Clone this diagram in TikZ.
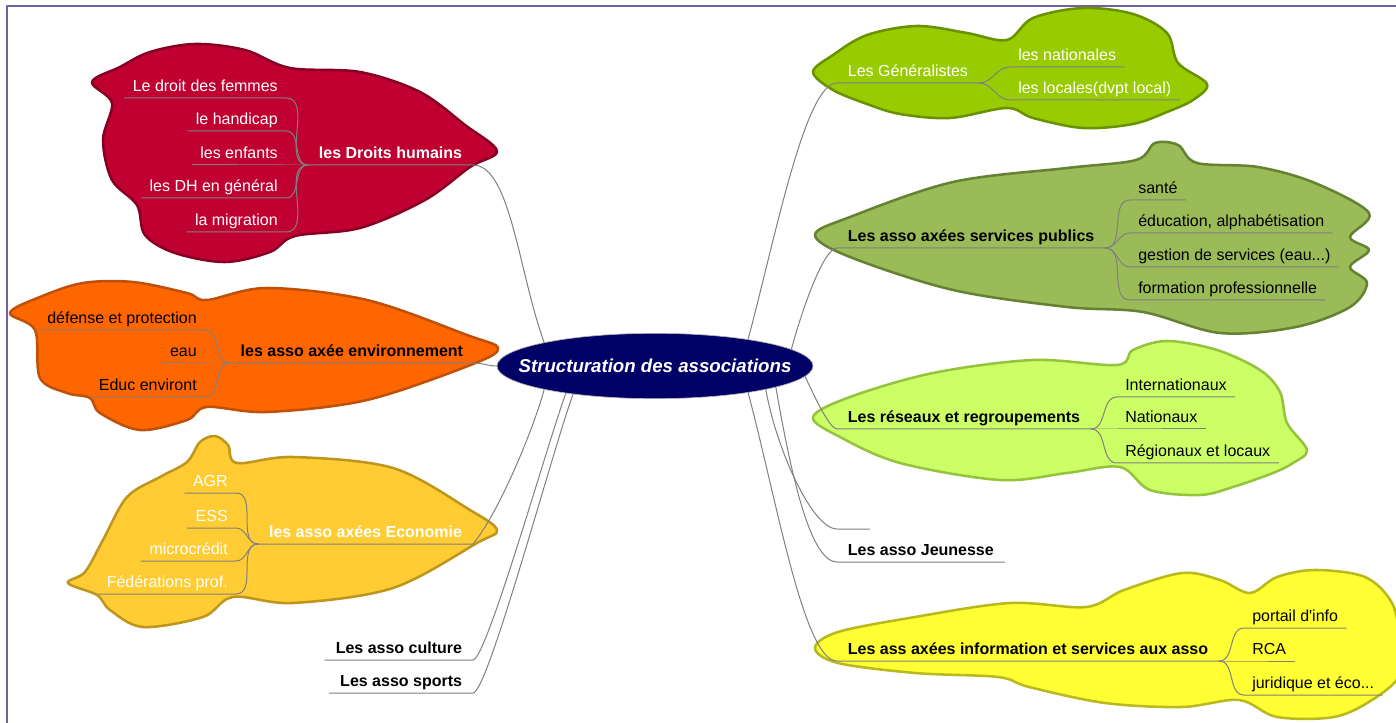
\documentclass[tikz,border=0pt]{standalone}
\usepackage{fontspec}
\setmainfont{Liberation Sans}
\usetikzlibrary{shapes.geometric}
\definecolor{framec}{RGB}{112,96,160}
\definecolor{linkc}{RGB}{128,128,128}
\definecolor{centrec}{RGB}{0,0,102}
\definecolor{dhfill}{RGB}{192,0,48}   \definecolor{dhline}{RGB}{135,0,35}
\definecolor{envfill}{RGB}{255,102,0} \definecolor{envline}{RGB}{190,80,10}
\definecolor{ecofill}{RGB}{255,204,51} \definecolor{ecoline}{RGB}{190,150,30}
\definecolor{genfill}{RGB}{153,204,0} \definecolor{genline}{RGB}{105,145,0}
\definecolor{spfill}{RGB}{155,187,89} \definecolor{spline}{RGB}{100,130,50}
\definecolor{resfill}{RGB}{204,255,102} \definecolor{resline}{RGB}{150,195,60}
\definecolor{inffill}{RGB}{255,255,51} \definecolor{infline}{RGB}{185,185,30}
\tikzset{
  topic/.style={inner xsep=8pt, inner ysep=2pt, text height=9pt, text depth=2.5pt,
    font=\fontsize{12pt}{14pt}\selectfont\bfseries},
  sub/.style={inner xsep=6pt, inner ysep=2pt, text height=9pt, text depth=2.5pt,
    font=\fontsize{12pt}{14pt}\selectfont},
  link/.style={draw=linkc, line width=0.75pt},
  blob/.style={line width=1.9pt},
  centre/.style={ellipse, fill=centrec, draw=gray!60, line width=0.5pt,
    minimum width=237pt, minimum height=49pt, inner sep=0pt, text=white,
    font=\fontsize{14pt}{16pt}\selectfont\bfseries\itshape}
}
\begin{document}
\begin{tikzpicture}[x=0.75pt, y=0.75pt, line join=round, line cap=round]
\useasboundingbox (0,0) rectangle (1396,-723);
\clip (0,0) rectangle (1396,-723);
\draw[framec, line width=1.5pt] (7,-723) -- (7,-6) -- (1396,-6);
% nuages
\draw[blob, fill=dhfill, draw=dhline] plot[smooth cycle, tension=.55] coordinates {(92,-82) (120,-67) (150,-52) (195,-44) (245,-50) (290,-68) (360,-72) (420,-92) (465,-125) (497,-151) (470,-167) (425,-200) (360,-228) (295,-236) (270,-252) (225,-262) (175,-253) (145,-235) (137,-205) (112,-180) (103,-140) (112,-103)};
\draw[blob, fill=envfill, draw=envline] plot[smooth cycle, tension=.55] coordinates {(10,-313) (40,-297) (83,-283) (133,-282) (187,-293) (207,-300) (267,-288) (367,-300) (467,-335) (498,-348) (473,-364) (367,-400) (267,-412) (207,-407) (187,-420) (140,-430) (100,-413) (90,-398) (67,-393) (40,-378) (35,-330)};
\draw[blob, fill=ecofill, draw=ecoline] plot[smooth cycle, tension=.55] coordinates {(68,-583) (85,-572) (103,-540) (127,-497) (160,-477) (187,-462) (200,-442) (215,-436) (228,-445) (237,-463) (293,-457) (393,-468) (470,-510) (497,-530) (477,-543) (393,-588) (293,-603) (233,-597) (203,-617) (143,-627) (110,-610) (97,-595)};
\draw[blob, fill=genfill, draw=genline] plot[smooth cycle, tension=.55] coordinates {(813,-72) (833,-55) (867,-35) (917,-26) (967,-33) (1007,-40) (1033,-18) (1083,-8) (1133,-14) (1167,-33) (1178,-63) (1207,-84) (1193,-100) (1167,-112) (1133,-124) (1083,-128) (1033,-118) (1007,-108) (950,-118) (900,-114) (867,-104) (833,-90)};
\draw[blob, fill=spfill, draw=spline] plot[smooth cycle, tension=.55] coordinates {(815,-235) (850,-217) (953,-182) (1067,-168) (1136,-160) (1155,-143) (1178,-145) (1197,-163) (1258,-167) (1315,-183) (1369,-213) (1350,-237) (1369,-250) (1350,-267) (1367,-283) (1350,-307) (1296,-327) (1220,-333) (1143,-312) (1067,-307) (953,-290) (850,-257)};
\draw[blob, fill=resfill, draw=resline] plot[smooth cycle, tension=.55] coordinates {(813,-417) (850,-397) (933,-373) (1033,-360) (1117,-365) (1133,-350) (1167,-341) (1217,-350) (1260,-370) (1280,-392) (1287,-423) (1307,-450) (1293,-463) (1273,-473) (1233,-487) (1200,-495) (1150,-490) (1120,-467) (1067,-473) (1000,-480) (900,-463) (840,-437)};
\draw[blob, fill=inffill, draw=infline] plot[smooth cycle, tension=.55] coordinates {(815,-648) (838,-632) (915,-617) (1010,-603) (1086,-607) (1124,-590) (1182,-573) (1220,-580) (1250,-593) (1277,-577) (1315,-570) (1365,-577) (1392,-603) (1400,-640) (1400,-675) (1372,-700) (1334,-717) (1277,-717) (1239,-700) (1182,-707) (1105,-703) (1029,-687) (998,-677) (915,-673) (838,-663)};
% centre
\node[centre] (c) at (655,-366) {\makebox[0pt]{Structuration des associations}};
% gauche
\node[topic, anchor=south east, text=white] (dh) at (473,-165) {les Droits humains};
\draw[link] (c.168) to[out=110, in=0, in looseness=.5] (dh.south east) -- (dh.south west);
\foreach \y/\t [count=\i] in {98/Le droit des femmes, 131/le handicap, 165/les enfants, 198/les DH en général, 232/la migration}{
  \node[sub, anchor=south east, text=white] (dh\i) at (286,-\y) {\t};
  \draw[link] (dh.south west) to[out=180, in=0] (dh\i.south east) -- (dh\i.south west);
}
\node[topic, anchor=south east] (env) at (474,-363) {les asso axée environnement};
\draw[link] (c.180) to[out=180, in=0] (env.south east) -- (env.south west);
\foreach \y/\t [count=\i] in {330/défense et protection, 363/eau, 397/Educ environt}{
  \node[sub, anchor=south east] (env\i) at (205,-\y) {\t};
  \draw[link] (env.south west) to[out=180, in=0] (env\i.south east) -- (env\i.south west);
}
\node[topic, anchor=south east, text=white] (eco) at (473,-544) {les asso axées Economie};
\draw[link] (c.192) to[out=255, in=50, looseness=.6] (eco.south east) -- (eco.south west);
\foreach \y/\t [count=\i] in {493/AGR, 528/ESS, 561/microcrédit, 594/Fédérations prof.}{
  \node[sub, anchor=south east, text=white] (eco\i) at (236,-\y) {\t};
  \draw[link] (eco.south west) to[out=180, in=0] (eco\i.south east) -- (eco\i.south west);
}
\node[topic, anchor=south east] (cul) at (473,-660) {Les asso culture};
\draw[link] (c.197) to[out=250, in=0, out looseness=.5, in looseness=.12] (cul.south east) -- (cul.south west);
\node[topic, anchor=south east] (spo) at (473,-693) {Les asso sports};
\draw[link] (c.199) to[out=250, in=0, out looseness=.5, in looseness=.12] (spo.south east) -- (spo.south west);
% droite
\node[topic, anchor=south west, text=white, font=\fontsize{12pt}{14pt}\selectfont] (gen) at (837,-83) {Les Généralistes};
\draw[link] (c.16) to[out=75, in=180, in looseness=.3] (gen.south west) -- (gen.south east);
\foreach \y/\t [count=\i] in {67/les nationales, 100/les locales(dvpt local)}{
  \node[sub, anchor=south west, text=white] (gen\i) at (1010,-\y) {\t};
  \draw[link] (gen.south east) to[out=0, in=180] (gen\i.south west) -- (gen\i.south east);
}
\node[topic, anchor=south west] (sp) at (837,-248) {Les asso axées services publics};
\draw[link] (c.7) to[out=75, in=180, in looseness=.3] (sp.south west) -- (sp.south east);
\foreach \y/\t [count=\i] in {200/santé, 233/{éducation, alphabétisation}, 267/{gestion de services (eau...)}, 300/formation professionnelle}{
  \node[sub, anchor=south west] (sp\i) at (1130,-\y) {\t};
  \draw[link] (sp.south east) to[out=0, in=180] (sp\i.south west) -- (sp\i.south east);
}
\node[topic, anchor=south west] (res) at (837,-429) {Les réseaux et regroupements};
\draw[link] (c.356) to[out=-65, in=180, in looseness=.3] (res.south west) -- (res.south east);
\foreach \y/\t [count=\i] in {397/Internationaux, 429/Nationaux, 463/Régionaux et locaux}{
  \node[sub, anchor=south west] (res\i) at (1117,-\y) {\t};
  \draw[link] (res.south east) to[out=0, in=180] (res\i.south west) -- (res\i.south east);
}
\node[topic, anchor=south west, minimum width=24pt] (emp) at (837,-529) {};
\draw[link] (c.348) to[out=-80, in=180, in looseness=.4] (emp.south west) -- (emp.south east);
\node[topic, anchor=south west] (jeu) at (837,-562) {Les asso Jeunesse};
\draw[link] (c.350) to[out=-80, in=180, in looseness=.4] (jeu.south west) -- (jeu.south east);
\node[topic, anchor=south west] (inf) at (837,-661) {Les ass axées information et services aux asso};
\draw[link] (c.344) to[out=-75, in=180, in looseness=.3] (inf.south west) -- (inf.south east);
\foreach \y/\t [count=\i] in {628/portail d\textquotesingle info, 661/RCA, 695/{juridique et éco...}}{
  \node[sub, anchor=south west] (inf\i) at (1244,-\y) {\t};
  \draw[link] (inf.south east) to[out=0, in=180] (inf\i.south west) -- (inf\i.south east);
}
\end{tikzpicture}
\end{document}
